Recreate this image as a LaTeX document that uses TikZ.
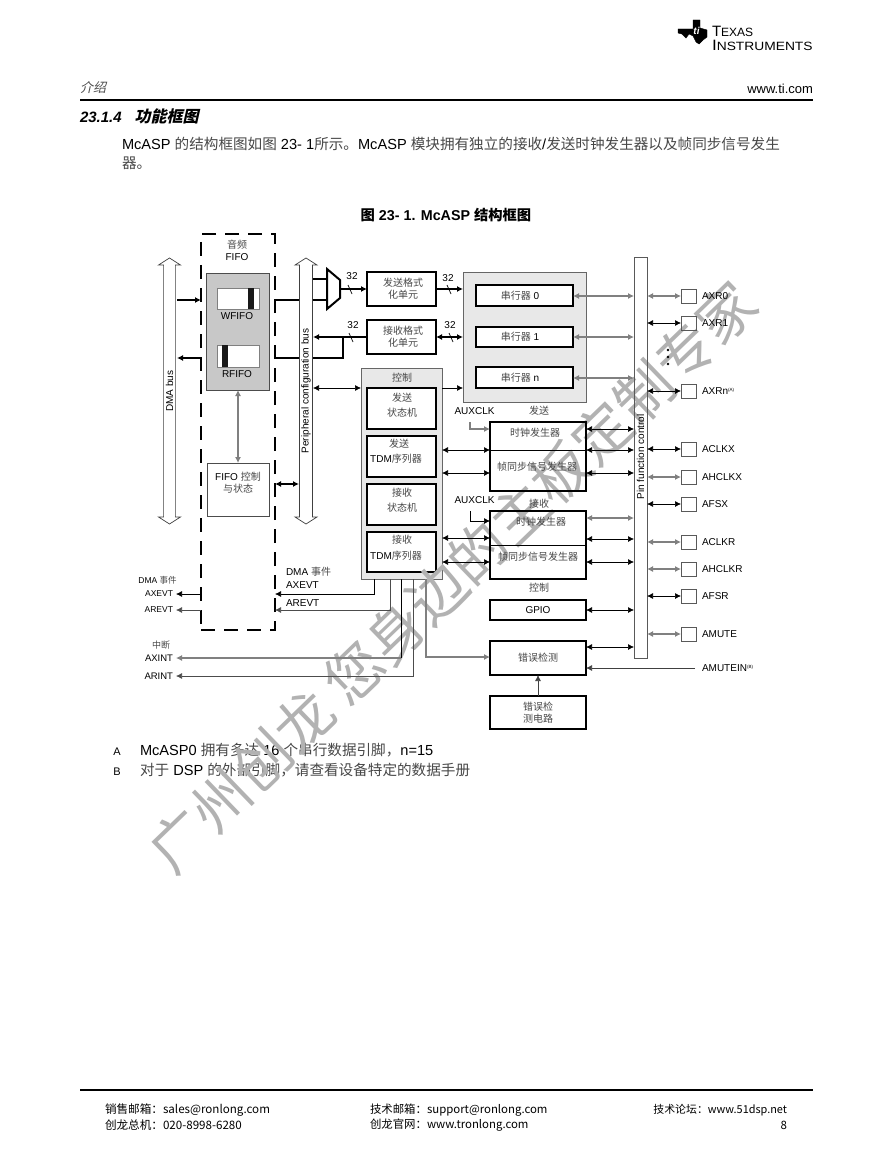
\documentclass[tikz,border=0pt]{standalone}
\usepackage{fontspec}
\setmainfont{Liberation Sans}
\newfontfamily\cjk{Noto Sans CJK SC}
\newfontfamily\cjkslant[FakeSlant=0.22]{Noto Sans CJK SC}
\usetikzlibrary{arrows.meta}
\usetikzlibrary{shapes.arrows}
\definecolor{corefill}{RGB}{200, 200, 200}
\definecolor{ctrlfill}{RGB}{232, 232, 232}
\definecolor{watermark}{RGB}{178, 178, 178}
\newcommand{\fsz}[1]{\fontsize{#1}{#1}\selectfont}
\newcommand{\zh}[1]{{\cjk\color{black!72}#1}}
\newcommand{\noteref}[1]{\raisebox{3pt}{\fsz{4.5}(#1)}}
\tikzset{
  x=1pt, y=-1pt,
  >={Latex[length=6pt,width=6pt]},
  sz/.style 2 args={minimum width=#1pt, minimum height=#2pt, inner sep=0pt, outer sep=0pt},
  lab/.style={inner sep=0pt, outer sep=0pt, font=\fsz{10}},
  zhlab/.style={lab, font=\fsz{10}\cjk, text=black!72, align=center},
  thickbox/.style={draw=black, line width=1.9pt},
  thinbox/.style={draw=black!70, line width=.8pt},
  wire/.style={black, line width=.7pt},
  wiregray/.style={black!50, line width=1.1pt},
  busline/.style={black, line width=2pt},
  busarrow/.style={draw=black!75, line width=.7pt, double arrow, rotate=90, inner sep=0pt, outer sep=0pt,
    double arrow head extend=3.5pt, double arrow tip angle=115, minimum height=266pt, minimum width=22pt, font=\fsz{10}},
  pad/.style={draw=black!65, line width=.9pt, sz={15}{14}},
}
\begin{document}
\begin{tikzpicture}
  \useasboundingbox (0,0) rectangle (893,1155);
  % Page furniture
  \filldraw[black] (693,20) -- (700,20) -- (700,28) -- (707,30) -- (707,37) -- (703,40) -- (699,44) -- (696,42)
       -- (693,36) -- (689,34) -- (686,38) -- (682,34) -- (678,33) -- (678,29) -- (693,29) -- cycle;
  \node[lab, text=white, font=\fsz{10}\bfseries\itshape] (tilogo) at (696.5,31) {ti};
  \node[lab, anchor=west] (texas) at (712,31) {\fsz{15}T\fsz{12}EXAS};
  \node[lab, anchor=west] (instr) at (712,45) {\scalebox{1.15}[1]{\fsz{15}I\fsz{12}NSTRUMENTS}};
  \node[lab, anchor=west, font=\fsz{13}\cjkslant, text=black!70] (chapter) at (80,88) {介绍};
  \node[lab, anchor=east, font=\fsz{13}] (tiurl) at (813,89) {www.ti.com};
  \draw[black, line width=2.8pt] (80,100) -- (813,100);
  \node[lab, anchor=west, font=\fsz{15}\bfseries\itshape] (section) at (80,116) {23.1.4\hspace{13pt}{\fsz{16}\cjkslant 功能框图}};
  \node[lab, anchor=west, font=\fsz{14.6}] (para1) at (122,144)
       {McASP \zh{的结构框图如图} 23- 1\zh{所示。}McASP \zh{模块拥有独立的接收}/\zh{发送时钟发生器以及帧同步信号发生}};
  \node[lab, anchor=west, font=\fsz{14.6}] (para2) at (122,163) {\zh{器。}};
  \node[lab, font=\fsz{14.3}\bfseries] (caption) at (446,215) {{\cjk 图} 23- 1. McASP {\cjk 结构框图}};
  \node[lab, font=\fsz{11}] (noteA) at (117,752) {A};
  \node[lab, font=\fsz{11}] (noteB) at (117,772) {B};
  \node[lab, anchor=west, font=\fsz{14.6}] (noteAtxt) at (140,750) {McASP0 \zh{拥有多达} 16 \zh{个串行数据引脚，}n=15};
  \node[lab, anchor=west, font=\fsz{14.6}] (noteBtxt) at (140,770) {\zh{对于} DSP \zh{的外部引脚，请查看设备特定的数据手册}};
  \draw[black, line width=2.4pt] (80,1090) -- (813,1090);
  \node[lab, anchor=west, font=\fsz{11.6}\cjk] (foot1) at (105,1110) {销售邮箱：sales@ronlong.com};
  \node[lab, anchor=west, font=\fsz{11.6}\cjk] (foot2) at (105,1125) {创龙总机：020-8998-6280};
  \node[lab, anchor=west, font=\fsz{11.4}\cjk] (foot3) at (370,1110) {技术邮箱：support@ronlong.com};
  \node[lab, anchor=west, font=\fsz{11.4}\cjk] (foot4) at (370,1125) {创龙官网：www.tronlong.com};
  \node[lab, anchor=east, font=\fsz{10.9}\cjk] (foot5) at (787,1110) {技术论坛：www.51dsp.net};
  \node[lab, anchor=east, font=\fsz{11.5}\cjk] (foot6) at (787,1125) {8};
  % Filled blocks go under the watermark
  \node[sz={63}{117}, draw=black!70, line width=.9pt, fill=corefill] (core) at (237.5,331.5) {};
  \node[sz={81}{211}, draw=black!60, line width=.9pt, fill=ctrlfill] (ctrl) at (401.5,473.5) {};
  \node[sz={123}{130}, draw=black!60, line width=.9pt, fill=ctrlfill] (serbox) at (524.5,337) {};
  \node[sz={42}{21}, draw=black!50, line width=.8pt, fill=white] (wicon) at (238,298.5) {};
  \node[sz={6}{21}, fill=black!90] (wbar) at (251,298.5) {};
  \node[sz={42}{22}, draw=black!50, line width=.8pt, fill=white] (ricon) at (238,356) {};
  \node[sz={6}{22}, fill=black!90] (rbar) at (225,356) {};
  \node[sz={97}{21}, thickbox, fill=white] (ser0) at (524.5,295.5) {};
  \node[sz={97}{20}, thickbox, fill=white] (ser1) at (524.5,337) {};
  \node[sz={97}{21}, thickbox, fill=white] (sern) at (524.5,377.5) {};
  \node[sz={69}{41}, thickbox, fill=white] (txsm) at (401.5,408.5) {};
  \node[sz={69}{41}, thickbox, fill=white] (txtdm) at (401.5,456.5) {};
  \node[sz={69}{41}, thickbox, fill=white] (rxsm) at (401.5,504.5) {};
  \node[sz={69}{40}, thickbox, fill=white] (rxtdm) at (401.5,552) {};
  % Watermark
  \node[inner sep=0pt, rotate=44, text=watermark, font=\fsz{57.5}\cjk] (stamp) at (453,577) {广州创龙 您身边的主板定制专家};
  % Buses and FIFO
  \node[busarrow] (dmabus) at (169.5,391) {DMA bus};
  \node[busarrow] (perbus) at (306,391) {Peripheral configuration bus};
  \coordinate (dmaedge) at (177,300);
  \coordinate (dmard) at (177,358);
  \coordinate (perleft) at (299,300);
  \coordinate (perright) at (313,300);
  \node[sz={74}{396}, draw=black, line width=2pt, dash pattern=on 14pt off 9pt] (fifo) at (238,432) {};
  \node[zhlab] (fifohead) at (237,245) {音频};
  \node[lab] (fifoname) at (237,257) {FIFO};
  \node[lab] (wlabel) at (237,316) {WFIFO};
  \node[lab] (rlabel) at (237,374) {RFIFO};
  \node[sz={62}{53}, thinbox, line width=1pt] (fifoctl) at (238,489.5) {};
  \node[lab] (fifoctltxt) at (238,477) {FIFO \zh{控制}};
  \node[zhlab] (fifoctltx2) at (238,489) {与状态};
  \draw[<->, black!50, line width=1.1pt] (core.south -| fifoctl.north) -- (fifoctl.north);
  % Format units
  \draw[busline, line join=miter] (327,269) -- (340,280) -- (340,298) -- (327,309) -- cycle;
  \coordinate (muxout) at (340,289);
  \node[sz={69}{34}, thickbox] (txfmt) at (401.5,289) {};
  \node[sz={69}{34}, thickbox] (rxfmt) at (401.5,337) {};
  \node[zhlab, font=\fsz{10}\cjk, align=center] (txfmttxt) at (403,289) {发送格式\\[2pt]化单元};
  \node[zhlab, font=\fsz{10}\cjk, align=center] (rxfmttxt) at (403,337) {接收格式\\[2pt]化单元};
  \node[lab] (w32a) at (352,276) {32};
  \node[lab] (w32b) at (353,325) {32};
  \node[lab] (w32c) at (448,278) {32};
  \node[lab] (w32d) at (450,325) {32};
  \draw[->, busline] (dmaedge) -- (fifo.west |- dmaedge);
  \draw[busline] (fifo.east |- dmaedge) -- (perleft);
  \draw[busline] (perright) -- (327,300);
  \draw[busline] (313,279) -- (327,279);
  \draw[->, busline] (muxout) -- (txfmt.west);
  \draw[->, busline] (txfmt.east) -- (serbox.west |- txfmt.east);
  \draw[<->, busline] (rxfmt.east) -- (serbox.west |- rxfmt.east);
  \draw[->, busline] (rxfmt.west) -- (perright |- rxfmt.west);
  \draw[busline] (343,337) -- (343,358) -- (313,358);
  \draw[busline] (perleft |- dmard) -- (fifo.east |- dmard);
  \draw[->, busline] (fifo.west |- dmard) -- (dmard);
  \draw[<->, busline] (fifo.east |- 0,484) -- (perleft |- 0,484);
  \foreach \tx/\ty in {350/289, 351/337, 449/289, 451/337}
    \draw[wire] (\tx-2,\ty-4) -- (\tx+2,\ty+5);
  % Serializers
  \node[lab] (ser0txt) at (520,295.5) {\zh{串行器} 0};
  \node[lab] (ser1txt) at (520,337) {\zh{串行器} 1};
  \node[lab] (serntxt) at (520,377.5) {\zh{串行器} n};
  % Control
  \node[zhlab] (ctrltxt) at (402,378) {控制};
  \node[zhlab] (txsm1) at (402,398) {发送};
  \node[zhlab] (txsm2) at (402,413) {状态机};
  \node[zhlab] (txtdm1) at (399,444) {发送};
  \node[lab] (txtdm2) at (396,459) {TDM\zh{序列器}};
  \node[zhlab] (rxsm1) at (402,493) {接收};
  \node[zhlab] (rxsm2) at (402,508) {状态机};
  \node[zhlab] (rxtdm1) at (402,540) {接收};
  \node[lab] (rxtdm2) at (396,556) {TDM\zh{序列器}};
  \draw[<->, wire] (perright |- 0,388) -- (ctrl.west |- 0,388);
  \draw[->, wire] (ctrl.east |- 0,388) -- (serbox.west |- 0,388);
  % Clock blocks
  \node[sz={96}{69}, thickbox] (txclk) at (538,456.5) {};
  \node[sz={96}{68}, thickbox] (rxclk) at (538,545) {};
  \node[sz={96}{20}, thickbox] (gpio) at (538,610) {};
  \node[sz={96}{34}, thickbox] (errdet) at (538,658) {};
  \node[sz={96}{33}, thickbox] (errcirc) at (538,712.5) {};
  \draw[wire] (txclk.west |- 0,450) -- (txclk.east |- 0,450);
  \draw[wire] (rxclk.west |- 0,545) -- (rxclk.east |- 0,545);
  \node[lab] (auxtx) at (474.5,411) {AUXCLK};
  \node[lab] (auxrx) at (474.5,500) {AUXCLK};
  \node[zhlab] (txhead) at (539,411) {发送};
  \node[zhlab] (rxhead) at (539,504) {接收};
  \node[zhlab] (ctlhead) at (539,588) {控制};
  \node[zhlab] (txclk1) at (535,433) {时钟发生器};
  \node[zhlab] (txclk2) at (537,467) {帧同步信号发生器};
  \node[zhlab] (rxclk1) at (541,522) {时钟发生器};
  \node[zhlab] (rxclk2) at (538,557) {帧同步信号发生器};
  \node[lab] (gpiotxt) at (538,610) {GPIO};
  \node[zhlab] (errtxt) at (538,658) {错误检测};
  \node[zhlab] (circtxt) at (538,712.5) {错误检\\[2pt]测电路};
  \draw[->, wiregray] (470,422) -- (470,429) -- (txclk.west |- 0,429);
  \draw[->, wire] (470,511) -- (470,521) -- (rxclk.west |- 0,521);
  \foreach \y in {450,473} \draw[<->, wire] (ctrl.east |- 0,\y) -- (txclk.west |- 0,\y);
  \foreach \y in {538,562} \draw[<->, wire] (ctrl.east |- 0,\y) -- (rxclk.west |- 0,\y);
  % Pin function control
  \node[sz={13}{400}, draw=black!65, line width=1pt] (pin) at (640.5,458) {};
  \node[lab, rotate=90] (pintxt) at (640.5,457) {Pin function control};
  \foreach \y/\src/\wirestyle in {296/ser0/wiregray, 337/ser1/wiregray, 378/sern/wiregray,
       429/txclk/wire, 450/txclk/wire, 473/txclk/wire, 518/rxclk/wiregray, 539/rxclk/wire, 562/rxclk/wire,
       610/gpio/wire, 647/errdet/wire}
    \draw[<->, \wirestyle] (\src.east |- 0,\y) -- (pin.west |- 0,\y);
  \foreach \y/\pname/\plabel/\wirestyle in {296/AXRzero/AXR0/wiregray, 323/AXRone/AXR1/wire, 391/AXRn/AXRn\noteref{A}/wire,
       449/ACLKX/ACLKX/wire, 477/AHCLKX/AHCLKX/wiregray, 504/AFSX/AFSX/wire,
       542/ACLKR/ACLKR/wiregray, 569/AHCLKR/AHCLKR/wiregray, 596/AFSR/AFSR/wire, 634/AMUTE/AMUTE/wiregray}{
    \node[pad] (pad\pname) at (688.5,\y) {};
    \node[lab, anchor=west] (lab\pname) at (702,\y) {\plabel};
    \draw[<->, \wirestyle] (pin.east |- pad\pname.west) -- (pad\pname.west);
  }
  \foreach \y in {350,357,364} \fill[black] (668,\y) circle (1.3);
  \node[lab, anchor=west] (amutein) at (702,668) {AMUTEIN\noteref{B}};
  \coordinate (amuteend) at (695,668);
  \draw[->, wire, black!75] (amuteend) -- (errdet.east |- amuteend);
  \draw[->, wire, black!75] (errcirc.north) -- (errdet.south);
  % Event and interrupt lines
  \node[lab, anchor=west] (axevtin) at (286,585) {AXEVT};
  \node[lab, anchor=west] (arevtin) at (286,603) {AREVT};
  \node[lab, anchor=west] (dmain) at (286,572) {DMA \zh{事件}};
  \node[lab, anchor=east, font=\fsz{8.5}] (axevt) at (173,594) {AXEVT};
  \node[lab, anchor=east, font=\fsz{8.5}] (arevt) at (173,610) {AREVT};
  \node[lab, font=\fsz{8.5}] (dmaout) at (157.5,580) {DMA \zh{事件}};
  \node[lab, font=\fsz{9}\cjk, text=black!72] (inthead) at (161,645) {中断};
  \node[lab, anchor=east, font=\fsz{9.5}] (axint) at (173,658) {AXINT};
  \node[lab, anchor=east, font=\fsz{9.5}] (arint) at (173,676) {ARINT};
  \coordinate (axevtend) at (176,594);
  \coordinate (arevtend) at (176,610);
  \coordinate (axintend) at (176,658);
  \coordinate (arintend) at (176,676);
  \draw[->, wire] (374,579) -- (374,594) -- (fifo.east |- axevtend);
  \draw[->, wire, black!70] (390,579) -- (390,610) -- (fifo.east |- arevtend);
  \draw[->, wire] (fifo.west |- axevtend) -- (axevtend);
  \draw[->, wire, black!70] (fifo.west |- arevtend) -- (arevtend);
  \draw[wire] (401,579) -- (401,658);
  \draw[->, wiregray] (401,658) -- (axintend);
  \draw[->, wire, black!70] (413,579) -- (413,676) -- (arintend);
  \draw[->, wiregray] (426,579) -- (426,657) -- (errdet.west |- 0,657);
\end{tikzpicture}
\end{document}
